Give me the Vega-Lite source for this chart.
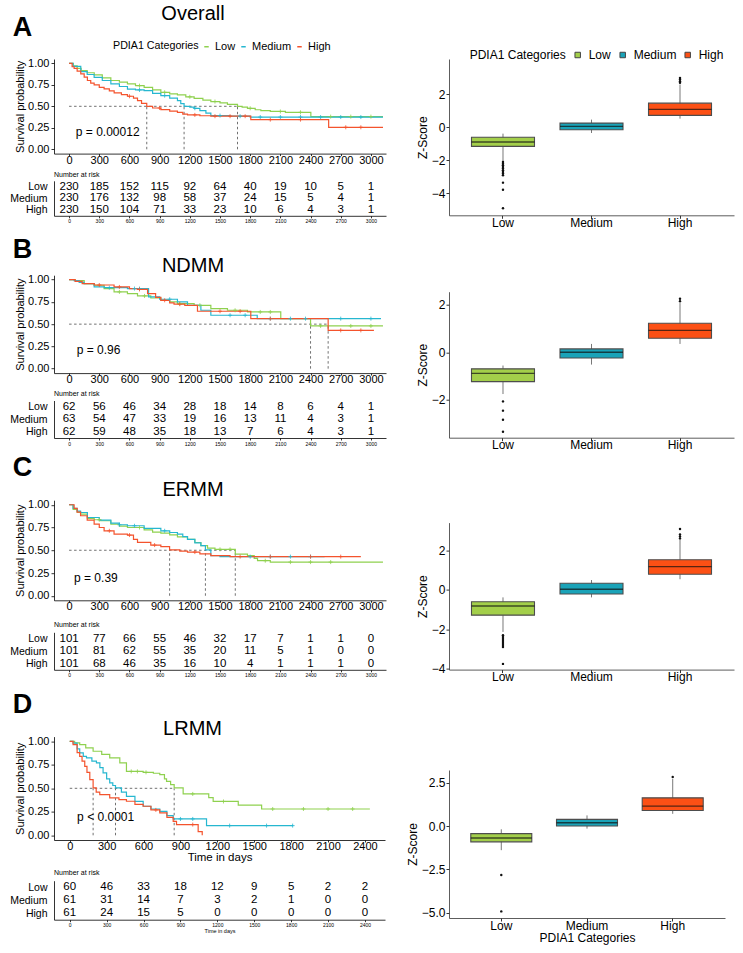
{
"$schema": "https://vega.github.io/schema/vega-lite/v6.json",
"padding": {"left": 9, "top": 4, "right": 2, "bottom": 2},
"spacing": 20,
"resolve": {"scale": {"fill": "independent"}, "legend": {"fill": "independent"}},
"config": {
  "font": "Liberation Sans",
  "view": {"stroke": null},
  "axis": {"grid": false, "domainColor": "#000", "domainWidth": 0.8, "tickColor": "#000", "tickWidth": 0.8, "labelColor": "#000", "titleColor": "#000", "titleFontWeight": "normal"},
  "title": {"color": "#000", "fontWeight": "normal"},
  "legend": {"labelColor": "#000", "titleColor": "#000"}
},
"hconcat": [
 {
  "spacing": 11.2,
  "vconcat": [
   {
    "title": {"text": "A", "anchor": "start", "fontSize": 27, "fontWeight": "bold", "offset": -38, "dx": 3},
    "spacing": 3.8,
    "vconcat": [
     {
      "width": 332, "height": 94.6,
      "title": {"text": "Overall", "fontSize": 20, "anchor": "middle", "frame": "group", "dx": -27, "offset": 33},
      "encoding": {
        "x": {"field": "t", "type": "quantitative", "title": null, "scale": {"domain": [-150, 3150], "nice": false, "zero": false}, "axis": {"values": [0,300,600,900,1200,1500,1800,2100,2400,2700,3000], "format": "d", "labelFontSize": 11, "tickSize": 2, "labelPadding": -1.5}},
        "y": {"field": "s", "type": "quantitative", "title": "Survival probability", "scale": {"domain": [-0.05, 1.05], "nice": false, "zero": false}, "axis": {"values": [0,0.25,0.5,0.75,1], "format": ".2f", "labelFontSize": 11, "tickSize": 3, "labelPadding": 2, "titleFontSize": 11, "titlePadding": 2}},
        "color": {"field": "g", "type": "nominal", "scale": {"domain": ["Low","Medium","High"], "range": ["#8fd14f","#26b7d0","#f4532d"]}, "legend": {"title": "PDIA1 Categories", "orient": "none", "legendX": 59, "legendY": -18, "direction": "horizontal", "titleOrient": "left", "titleFontSize": 10.7, "titleFontWeight": "normal", "labelFontSize": 11, "symbolType": "stroke", "symbolSize": 20, "symbolStrokeWidth": 1.5, "columnPadding": 2, "labelOffset": 3, "titlePadding": 2}}
      },
      "layer": [
        {"data": {"name": "medA"}, "mark": {"type": "rule", "strokeDash": [2.5, 2.5], "strokeWidth": 0.7}, "encoding": {"x2": {"field": "t2"}, "y2": {"field": "s2"}, "color": {"value": "#333"}}},
        {"data": {"name": "kmA"}, "mark": {"type": "line", "interpolate": "step-after", "strokeWidth": 1.2}},
        {"data": {"name": "cenA"}, "mark": {"type": "point", "shape": "M-1,0H1M0,-1V1", "filled": false, "size": 16, "strokeWidth": 0.8, "opacity": 1}},
        {"data": {"name": "pA"}, "mark": {"type": "text", "align": "left", "baseline": "middle", "fontSize": 12}, "encoding": {"text": {"field": "label"}, "color": {"value": "#000"}}}
      ]
     },
     {
      "width": 332, "height": 35,
      "title": {"text": "Number at risk", "fontSize": 7, "anchor": "start", "frame": "group", "offset": 3},
      "data": {"name": "riskA"},
      "mark": {"type": "text", "fontSize": 11.5, "baseline": "middle"},
      "encoding": {
        "x": {"field": "t", "type": "quantitative", "title": null, "scale": {"domain": [-150, 3150], "nice": false, "zero": false}, "axis": {"values": [0,300,600,900,1200,1500,1800,2100,2400,2700,3000], "format": "d", "labelFontSize": 5, "tickSize": 2, "labelPadding": 1}},
        "y": {"field": "g", "type": "nominal", "title": null, "scale": {"domain": ["Low","Medium","High"]}, "axis": {"ticks": false, "labelFontSize": 10.5, "labelPadding": 7, "encode": {"labels": {"update": {"fill": {"signal": "datum.value === 'Low' ? '#b4e08f' : datum.value === 'Medium' ? '#52cfe0' : '#fa5a3c'"}}}}}},
        "text": {"field": "n", "type": "nominal"}
      }
     }
    ]
   },
   {
    "spacing": 8,
    "vconcat": [
     {
      "title": {"text": "B", "anchor": "start", "fontSize": 27, "fontWeight": "bold", "offset": -8, "dx": 3},
      "spacing": 4.3,
      "vconcat": [
       {
        "width": 332, "height": 97.9,
        "title": {"text": "NDMM", "fontSize": 20, "anchor": "middle", "frame": "group", "dx": -27, "offset": -2},
        "encoding": {
          "x": {"field": "t", "type": "quantitative", "title": null, "scale": {"domain": [-150, 3150], "nice": false, "zero": false}, "axis": {"values": [0,300,600,900,1200,1500,1800,2100,2400,2700,3000], "format": "d", "labelFontSize": 11, "tickSize": 2, "labelPadding": -1.5}},
          "y": {"field": "s", "type": "quantitative", "title": "Survival probability", "scale": {"domain": [-0.05, 1.05], "nice": false, "zero": false}, "axis": {"values": [0,0.25,0.5,0.75,1], "format": ".2f", "labelFontSize": 11, "tickSize": 3, "labelPadding": 2, "titleFontSize": 11, "titlePadding": 2}},
          "color": {"field": "g", "type": "nominal", "scale": {"domain": ["Low","Medium","High"], "range": ["#8fd14f","#26b7d0","#f4532d"]}, "legend": null}
        },
        "layer": [
          {"data": {"name": "medB"}, "mark": {"type": "rule", "strokeDash": [2.5, 2.5], "strokeWidth": 0.7}, "encoding": {"x2": {"field": "t2"}, "y2": {"field": "s2"}, "color": {"value": "#333"}}},
          {"data": {"name": "kmB"}, "mark": {"type": "line", "interpolate": "step-after", "strokeWidth": 1.2}},
          {"data": {"name": "cenB"}, "mark": {"type": "point", "shape": "M-1,0H1M0,-1V1", "filled": false, "size": 16, "strokeWidth": 0.8, "opacity": 1}},
          {"data": {"name": "pB"}, "mark": {"type": "text", "align": "left", "baseline": "middle", "fontSize": 12}, "encoding": {"text": {"field": "label"}, "color": {"value": "#000"}}}
        ]
       },
       {
        "width": 332, "height": 37.5,
        "title": {"text": "Number at risk", "fontSize": 7, "anchor": "start", "frame": "group", "offset": 3.5},
        "data": {"name": "riskB"},
        "mark": {"type": "text", "fontSize": 11.5, "baseline": "middle"},
        "encoding": {
          "x": {"field": "t", "type": "quantitative", "title": null, "scale": {"domain": [-150, 3150], "nice": false, "zero": false}, "axis": {"values": [0,300,600,900,1200,1500,1800,2100,2400,2700,3000], "format": "d", "labelFontSize": 5, "tickSize": 2, "labelPadding": 1}},
          "y": {"field": "g", "type": "nominal", "title": null, "scale": {"domain": ["Low","Medium","High"]}, "axis": {"ticks": false, "labelFontSize": 10.5, "labelPadding": 7, "encode": {"labels": {"update": {"fill": {"signal": "datum.value === 'Low' ? '#b4e08f' : datum.value === 'Medium' ? '#52cfe0' : '#fa5a3c'"}}}}}},
          "text": {"field": "n", "type": "nominal"}
        }
       }
      ]
     },
     {
      "spacing": 12.4,
      "vconcat": [
       {
        "title": {"text": "C", "anchor": "start", "fontSize": 27, "fontWeight": "bold", "offset": -2.4, "dx": 3},
        "spacing": 8.1,
        "vconcat": [
         {
          "width": 332, "height": 100.1,
          "title": {"text": "ERMM", "fontSize": 20, "anchor": "middle", "frame": "group", "dx": -27, "offset": -1.3},
          "encoding": {
            "x": {"field": "t", "type": "quantitative", "title": null, "scale": {"domain": [-150, 3150], "nice": false, "zero": false}, "axis": {"values": [0,300,600,900,1200,1500,1800,2100,2400,2700,3000], "format": "d", "labelFontSize": 11, "tickSize": 2, "labelPadding": -1.5}},
            "y": {"field": "s", "type": "quantitative", "title": "Survival probability", "scale": {"domain": [-0.05, 1.05], "nice": false, "zero": false}, "axis": {"values": [0,0.25,0.5,0.75,1], "format": ".2f", "labelFontSize": 11, "tickSize": 3, "labelPadding": 2, "titleFontSize": 11, "titlePadding": 2}},
            "color": {"field": "g", "type": "nominal", "scale": {"domain": ["Low","Medium","High"], "range": ["#8fd14f","#26b7d0","#f4532d"]}, "legend": null}
          },
          "layer": [
            {"data": {"name": "medC"}, "mark": {"type": "rule", "strokeDash": [2.5, 2.5], "strokeWidth": 0.7}, "encoding": {"x2": {"field": "t2"}, "y2": {"field": "s2"}, "color": {"value": "#333"}}},
            {"data": {"name": "kmC"}, "mark": {"type": "line", "interpolate": "step-after", "strokeWidth": 1.2}},
            {"data": {"name": "cenC"}, "mark": {"type": "point", "shape": "M-1,0H1M0,-1V1", "filled": false, "size": 16, "strokeWidth": 0.8, "opacity": 1}},
            {"data": {"name": "pC"}, "mark": {"type": "text", "align": "left", "baseline": "middle", "fontSize": 12}, "encoding": {"text": {"field": "label"}, "color": {"value": "#000"}}}
          ]
         },
         {
          "width": 332, "height": 37.5,
          "title": {"text": "Number at risk", "fontSize": 7, "anchor": "start", "frame": "group", "offset": 4.5},
          "data": {"name": "riskC"},
          "mark": {"type": "text", "fontSize": 11.5, "baseline": "middle"},
          "encoding": {
            "x": {"field": "t", "type": "quantitative", "title": null, "scale": {"domain": [-150, 3150], "nice": false, "zero": false}, "axis": {"values": [0,300,600,900,1200,1500,1800,2100,2400,2700,3000], "format": "d", "labelFontSize": 5, "tickSize": 2, "labelPadding": 1}},
            "y": {"field": "g", "type": "nominal", "title": null, "scale": {"domain": ["Low","Medium","High"]}, "axis": {"ticks": false, "labelFontSize": 10.5, "labelPadding": 7, "encode": {"labels": {"update": {"fill": {"signal": "datum.value === 'Low' ? '#b4e08f' : datum.value === 'Medium' ? '#52cfe0' : '#fa5a3c'"}}}}}},
            "text": {"field": "n", "type": "nominal"}
          }
         }
        ]
       },
       {
        "title": {"text": "D", "anchor": "start", "fontSize": 27, "fontWeight": "bold", "offset": 0, "dx": 3},
        "spacing": 5.1,
        "vconcat": [
         {
          "width": 331, "height": 103.4,
          "title": {"text": "LRMM", "fontSize": 20, "anchor": "middle", "frame": "group", "dx": -27, "offset": -3.4},
          "encoding": {
            "x": {"field": "t", "type": "quantitative", "title": "Time in days", "scale": {"domain": [-128, 2563], "nice": false, "zero": false}, "axis": {"values": [0,300,600,900,1200,1500,1800,2100,2400], "format": "d", "labelFontSize": 11, "tickSize": 2, "labelPadding": -1.5, "titleFontSize": 11.5, "titlePadding": 0}},
            "y": {"field": "s", "type": "quantitative", "title": "Survival probability", "scale": {"domain": [-0.05, 1.05], "nice": false, "zero": false}, "axis": {"values": [0,0.25,0.5,0.75,1], "format": ".2f", "labelFontSize": 11, "tickSize": 3, "labelPadding": 2, "titleFontSize": 11, "titlePadding": 2}},
            "color": {"field": "g", "type": "nominal", "scale": {"domain": ["Low","Medium","High"], "range": ["#8fd14f","#26b7d0","#f4532d"]}, "legend": null}
          },
          "layer": [
            {"data": {"name": "medD"}, "mark": {"type": "rule", "strokeDash": [2.5, 2.5], "strokeWidth": 0.7}, "encoding": {"x2": {"field": "t2"}, "y2": {"field": "s2"}, "color": {"value": "#333"}}},
            {"data": {"name": "kmD"}, "mark": {"type": "line", "interpolate": "step-after", "strokeWidth": 1.2}},
            {"data": {"name": "cenD"}, "mark": {"type": "point", "shape": "M-1,0H1M0,-1V1", "filled": false, "size": 16, "strokeWidth": 0.8, "opacity": 1}},
            {"data": {"name": "pD"}, "mark": {"type": "text", "align": "left", "baseline": "middle", "fontSize": 12}, "encoding": {"text": {"field": "label"}, "color": {"value": "#000"}}}
          ]
         },
         {
          "width": 331, "height": 39,
          "title": {"text": "Number at risk", "fontSize": 7, "anchor": "start", "frame": "group", "offset": 4.6},
          "data": {"name": "riskD"},
          "mark": {"type": "text", "fontSize": 11.5, "baseline": "middle"},
          "encoding": {
            "x": {"field": "t", "type": "quantitative", "title": "Time in days", "scale": {"domain": [-128, 2563], "nice": false, "zero": false}, "axis": {"values": [0,300,600,900,1200,1500,1800,2100,2400], "format": "d", "labelFontSize": 5, "tickSize": 2, "labelPadding": 1, "titleFontSize": 5.5, "titlePadding": 1}},
            "y": {"field": "g", "type": "nominal", "title": null, "scale": {"domain": ["Low","Medium","High"]}, "axis": {"ticks": false, "labelFontSize": 10.5, "labelPadding": 7, "encode": {"labels": {"update": {"fill": {"signal": "datum.value === 'Low' ? '#b4e08f' : datum.value === 'Medium' ? '#52cfe0' : '#fa5a3c'"}}}}}},
            "text": {"field": "n", "type": "nominal"}
          }
         }
        ]
       }
      ]
     }
    ]
   }
  ]
 },
 {
  "spacing": 62.7,
  "vconcat": [
   {
    "width": 285, "height": 156.3,
    "encoding": {"x": {"field": "g", "type": "nominal", "title": null, "scale": {"type": "band", "domain": ["Low","Medium","High"], "paddingInner": 0, "paddingOuter": 0.11}, "axis": {"labelAngle": 0, "labelFontSize": 12, "tickSize": 3, "labelPadding": -1, "domainColor": "#333"}}},
    "layer": [
      {"data": {"name": "boxA"}, "mark": {"type": "rule", "color": "#555", "strokeWidth": 0.8}, "encoding": {"y": {"field": "lo", "type": "quantitative", "title": "Z-Score", "scale": {"domain": [-5.33, 4.145], "nice": false, "zero": false}, "axis": {"values": [-4,-2,0,2], "labelFontSize": 12, "titleFontSize": 12, "tickSize": 3, "labelPadding": 1, "titlePadding": 2, "domainColor": "#333"}}, "y2": {"field": "hi"}}},
      {"data": {"name": "boxA"}, "mark": {"type": "bar", "size": 63, "stroke": "#4d4d4d", "strokeWidth": 1.1}, "encoding": {"y": {"field": "q1", "type": "quantitative", "title": "Z-Score", "scale": {"domain": [-5.33, 4.145], "nice": false, "zero": false}}, "y2": {"field": "q3"}, "fill": {"field": "g", "type": "nominal", "scale": {"domain": ["Low","Medium","High"], "range": ["#a3cf4a","#1aa3b8","#fc5015"]}, "legend": {"title": "PDIA1 Categories", "orient": "none", "legendX": 20.7, "legendY": -10, "direction": "horizontal", "titleOrient": "left", "titleFontSize": 12, "titleFontWeight": "normal", "labelFontSize": 12, "symbolType": "square", "symbolSize": 30, "symbolStrokeColor": "#444", "symbolStrokeWidth": 1, "columnPadding": 5, "labelOffset": 5, "titlePadding": 5}}}},
      {"data": {"name": "boxA"}, "mark": {"type": "tick", "size": 63, "thickness": 1.4, "color": "#111"}, "encoding": {"y": {"field": "med", "type": "quantitative", "title": "Z-Score", "scale": {"domain": [-5.33, 4.145], "nice": false, "zero": false}}}},
      {"data": {"name": "outA"}, "mark": {"type": "circle", "size": 6, "color": "#111", "opacity": 1}, "encoding": {"y": {"field": "v", "type": "quantitative", "title": "Z-Score", "scale": {"domain": [-5.33, 4.145], "nice": false, "zero": false}}}}
    ]
   },
   {
    "spacing": 71.9,
    "vconcat": [
     {
      "width": 285, "height": 146,
      "encoding": {"x": {"field": "g", "type": "nominal", "title": null, "scale": {"type": "band", "domain": ["Low","Medium","High"], "paddingInner": 0, "paddingOuter": 0.11}, "axis": {"labelAngle": 0, "labelFontSize": 12, "tickSize": 3, "labelPadding": -1, "domainColor": "#333"}}},
      "layer": [
        {"data": {"name": "boxB"}, "mark": {"type": "rule", "color": "#555", "strokeWidth": 0.8}, "encoding": {"y": {"field": "lo", "type": "quantitative", "title": "Z-Score", "scale": {"domain": [-3.6, 2.55], "nice": false, "zero": false}, "axis": {"values": [-2,0,2], "labelFontSize": 12, "titleFontSize": 12, "tickSize": 3, "labelPadding": 1, "titlePadding": 2, "domainColor": "#333"}}, "y2": {"field": "hi"}}},
        {"data": {"name": "boxB"}, "mark": {"type": "bar", "size": 63, "stroke": "#4d4d4d", "strokeWidth": 1.1}, "encoding": {"y": {"field": "q1", "type": "quantitative", "title": "Z-Score", "scale": {"domain": [-3.6, 2.55], "nice": false, "zero": false}}, "y2": {"field": "q3"}, "fill": {"field": "g", "type": "nominal", "scale": {"domain": ["Low","Medium","High"], "range": ["#a3cf4a","#1aa3b8","#fc5015"]}, "legend": null}}},
        {"data": {"name": "boxB"}, "mark": {"type": "tick", "size": 63, "thickness": 1.4, "color": "#111"}, "encoding": {"y": {"field": "med", "type": "quantitative", "title": "Z-Score", "scale": {"domain": [-3.6, 2.55], "nice": false, "zero": false}}}},
        {"data": {"name": "outB"}, "mark": {"type": "circle", "size": 6, "color": "#111", "opacity": 1}, "encoding": {"y": {"field": "v", "type": "quantitative", "title": "Z-Score", "scale": {"domain": [-3.6, 2.55], "nice": false, "zero": false}}}}
      ]
     },
     {
      "spacing": 87.4,
      "vconcat": [
       {
        "width": 285, "height": 147,
        "encoding": {"x": {"field": "g", "type": "nominal", "title": null, "scale": {"type": "band", "domain": ["Low","Medium","High"], "paddingInner": 0, "paddingOuter": 0.11}, "axis": {"labelAngle": 0, "labelFontSize": 12, "tickSize": 3, "labelPadding": -1, "domainColor": "#333"}}},
        "layer": [
          {"data": {"name": "boxC"}, "mark": {"type": "rule", "color": "#555", "strokeWidth": 0.8}, "encoding": {"y": {"field": "lo", "type": "quantitative", "title": "Z-Score", "scale": {"domain": [-4.05, 3.4], "nice": false, "zero": false}, "axis": {"values": [-4,-2,0,2], "labelFontSize": 12, "titleFontSize": 12, "tickSize": 3, "labelPadding": 1, "titlePadding": 2, "domainColor": "#333"}}, "y2": {"field": "hi"}}},
          {"data": {"name": "boxC"}, "mark": {"type": "bar", "size": 63, "stroke": "#4d4d4d", "strokeWidth": 1.1}, "encoding": {"y": {"field": "q1", "type": "quantitative", "title": "Z-Score", "scale": {"domain": [-4.05, 3.4], "nice": false, "zero": false}}, "y2": {"field": "q3"}, "fill": {"field": "g", "type": "nominal", "scale": {"domain": ["Low","Medium","High"], "range": ["#a3cf4a","#1aa3b8","#fc5015"]}, "legend": null}}},
          {"data": {"name": "boxC"}, "mark": {"type": "tick", "size": 63, "thickness": 1.4, "color": "#111"}, "encoding": {"y": {"field": "med", "type": "quantitative", "title": "Z-Score", "scale": {"domain": [-4.05, 3.4], "nice": false, "zero": false}}}},
          {"data": {"name": "outC"}, "mark": {"type": "circle", "size": 6, "color": "#111", "opacity": 1}, "encoding": {"y": {"field": "v", "type": "quantitative", "title": "Z-Score", "scale": {"domain": [-4.05, 3.4], "nice": false, "zero": false}}}}
        ]
       },
       {
        "width": 276, "height": 148,
        "encoding": {"x": {"field": "g", "type": "nominal", "title": "PDIA1 Categories", "scale": {"type": "band", "domain": ["Low","Medium","High"], "paddingInner": 0, "paddingOuter": 0.11}, "axis": {"labelAngle": 0, "labelFontSize": 12, "tickSize": 3, "labelPadding": -1, "titleFontSize": 12, "titlePadding": 1.5, "domainColor": "#333"}}},
        "layer": [
          {"data": {"name": "boxD"}, "mark": {"type": "rule", "color": "#555", "strokeWidth": 0.8}, "encoding": {"y": {"field": "lo", "type": "quantitative", "title": "Z-Score", "scale": {"domain": [-5.29, 3.22], "nice": false, "zero": false}, "axis": {"values": [-5,-2.5,0,2.5], "format": ".1f", "labelFontSize": 12, "titleFontSize": 12, "tickSize": 3, "labelPadding": 1, "titlePadding": 2, "domainColor": "#333"}}, "y2": {"field": "hi"}}},
          {"data": {"name": "boxD"}, "mark": {"type": "bar", "size": 61, "stroke": "#4d4d4d", "strokeWidth": 1.1}, "encoding": {"y": {"field": "q1", "type": "quantitative", "title": "Z-Score", "scale": {"domain": [-5.29, 3.22], "nice": false, "zero": false}}, "y2": {"field": "q3"}, "fill": {"field": "g", "type": "nominal", "scale": {"domain": ["Low","Medium","High"], "range": ["#a3cf4a","#1aa3b8","#fc5015"]}, "legend": null}}},
          {"data": {"name": "boxD"}, "mark": {"type": "tick", "size": 61, "thickness": 1.4, "color": "#111"}, "encoding": {"y": {"field": "med", "type": "quantitative", "title": "Z-Score", "scale": {"domain": [-5.29, 3.22], "nice": false, "zero": false}}}},
          {"data": {"name": "outD"}, "mark": {"type": "circle", "size": 6, "color": "#111", "opacity": 1}, "encoding": {"y": {"field": "v", "type": "quantitative", "title": "Z-Score", "scale": {"domain": [-5.29, 3.22], "nice": false, "zero": false}}}}
        ]
       }
      ]
     }
    ]
   }
  ]
 }
],
"datasets": {
 "kmA": [
  {"g":"Low","t":0,"s":1},{"g":"Low","t":40,"s":0.97},{"g":"Low","t":80,"s":0.94},{"g":"Low","t":120,"s":0.915},{"g":"Low","t":180,"s":0.89},{"g":"Low","t":250,"s":0.865},{"g":"Low","t":330,"s":0.83},{"g":"Low","t":415,"s":0.8},{"g":"Low","t":500,"s":0.78},{"g":"Low","t":580,"s":0.76},{"g":"Low","t":660,"s":0.74},{"g":"Low","t":746,"s":0.72},{"g":"Low","t":830,"s":0.69},{"g":"Low","t":912,"s":0.663},{"g":"Low","t":1000,"s":0.645},{"g":"Low","t":1077,"s":0.632},{"g":"Low","t":1160,"s":0.61},{"g":"Low","t":1243,"s":0.593},{"g":"Low","t":1330,"s":0.572},{"g":"Low","t":1409,"s":0.555},{"g":"Low","t":1500,"s":0.54},{"g":"Low","t":1574,"s":0.523},{"g":"Low","t":1674,"s":0.5},{"g":"Low","t":1720,"s":0.49},{"g":"Low","t":1773,"s":0.477},{"g":"Low","t":1850,"s":0.46},{"g":"Low","t":1906,"s":0.45},{"g":"Low","t":2000,"s":0.44},{"g":"Low","t":2150,"s":0.43},{"g":"Low","t":2403,"s":0.38},{"g":"Low","t":3120,"s":0.38},
  {"g":"Medium","t":0,"s":1},{"g":"Medium","t":40,"s":0.965},{"g":"Medium","t":116,"s":0.903},{"g":"Medium","t":180,"s":0.87},{"g":"Medium","t":249,"s":0.837},{"g":"Medium","t":330,"s":0.8},{"g":"Medium","t":415,"s":0.76},{"g":"Medium","t":500,"s":0.73},{"g":"Medium","t":580,"s":0.7},{"g":"Medium","t":660,"s":0.69},{"g":"Medium","t":746,"s":0.683},{"g":"Medium","t":830,"s":0.65},{"g":"Medium","t":912,"s":0.624},{"g":"Medium","t":1000,"s":0.595},{"g":"Medium","t":1077,"s":0.566},{"g":"Medium","t":1110,"s":0.53},{"g":"Medium","t":1143,"s":0.5},{"g":"Medium","t":1200,"s":0.49},{"g":"Medium","t":1243,"s":0.477},{"g":"Medium","t":1300,"s":0.45},{"g":"Medium","t":1360,"s":0.42},{"g":"Medium","t":1409,"s":0.392},{"g":"Medium","t":1600,"s":0.385},{"g":"Medium","t":1800,"s":0.375},{"g":"Medium","t":3120,"s":0.375},
  {"g":"High","t":0,"s":1},{"g":"High","t":30,"s":0.96},{"g":"High","t":50,"s":0.942},{"g":"High","t":80,"s":0.91},{"g":"High","t":116,"s":0.876},{"g":"High","t":150,"s":0.84},{"g":"High","t":182,"s":0.8},{"g":"High","t":215,"s":0.77},{"g":"High","t":249,"s":0.748},{"g":"High","t":300,"s":0.72},{"g":"High","t":348,"s":0.702},{"g":"High","t":400,"s":0.68},{"g":"High","t":448,"s":0.656},{"g":"High","t":520,"s":0.635},{"g":"High","t":580,"s":0.617},{"g":"High","t":640,"s":0.595},{"g":"High","t":680,"s":0.566},{"g":"High","t":720,"s":0.535},{"g":"High","t":772,"s":0.5},{"g":"High","t":830,"s":0.48},{"g":"High","t":912,"s":0.462},{"g":"High","t":1000,"s":0.445},{"g":"High","t":1077,"s":0.43},{"g":"High","t":1130,"s":0.41},{"g":"High","t":1177,"s":0.4},{"g":"High","t":1300,"s":0.39},{"g":"High","t":1409,"s":0.385},{"g":"High","t":1806,"s":0.345},{"g":"High","t":2580,"s":0.256},{"g":"High","t":3120,"s":0.256}
 ],
 "cenA": [
  {"g":"Low","t":700,"s":0.74},{"g":"Low","t":950,"s":0.663},{"g":"Low","t":1200,"s":0.61},{"g":"Low","t":1450,"s":0.555},{"g":"Low","t":1800,"s":0.477},{"g":"Low","t":2100,"s":0.44},{"g":"Low","t":2300,"s":0.43},{"g":"Low","t":2600,"s":0.38},{"g":"Low","t":2800,"s":0.38},{"g":"Low","t":3000,"s":0.38},
  {"g":"Medium","t":700,"s":0.69},{"g":"Medium","t":950,"s":0.624},{"g":"Medium","t":1250,"s":0.477},{"g":"Medium","t":1500,"s":0.392},{"g":"Medium","t":1700,"s":0.385},{"g":"Medium","t":1900,"s":0.375},{"g":"Medium","t":2100,"s":0.375},{"g":"Medium","t":2300,"s":0.375},{"g":"Medium","t":2500,"s":0.375},{"g":"Medium","t":2700,"s":0.375},{"g":"Medium","t":2900,"s":0.375},
  {"g":"High","t":600,"s":0.617},{"g":"High","t":900,"s":0.48},{"g":"High","t":1250,"s":0.4},{"g":"High","t":1450,"s":0.385},{"g":"High","t":1600,"s":0.385},{"g":"High","t":1750,"s":0.385},{"g":"High","t":2000,"s":0.345},{"g":"High","t":2300,"s":0.345},{"g":"High","t":2750,"s":0.256},{"g":"High","t":2900,"s":0.256}
 ],
 "medA": [{"t":0,"t2":1674,"s":0.5,"s2":0.5},{"t":772,"t2":772,"s":0,"s2":0.5},{"t":1143,"t2":1143,"s":0,"s2":0.5},{"t":1674,"t2":1674,"s":0,"s2":0.5}],
 "pA": [{"t":67,"s":0.2,"label":"p = 0.00012"}],
 "riskA": [
  {"g":"Low","t":0,"n":230},{"g":"Low","t":300,"n":185},{"g":"Low","t":600,"n":152},{"g":"Low","t":900,"n":115},{"g":"Low","t":1200,"n":92},{"g":"Low","t":1500,"n":64},{"g":"Low","t":1800,"n":40},{"g":"Low","t":2100,"n":19},{"g":"Low","t":2400,"n":10},{"g":"Low","t":2700,"n":5},{"g":"Low","t":3000,"n":1},
  {"g":"Medium","t":0,"n":230},{"g":"Medium","t":300,"n":176},{"g":"Medium","t":600,"n":132},{"g":"Medium","t":900,"n":98},{"g":"Medium","t":1200,"n":58},{"g":"Medium","t":1500,"n":37},{"g":"Medium","t":1800,"n":24},{"g":"Medium","t":2100,"n":15},{"g":"Medium","t":2400,"n":5},{"g":"Medium","t":2700,"n":4},{"g":"Medium","t":3000,"n":1},
  {"g":"High","t":0,"n":230},{"g":"High","t":300,"n":150},{"g":"High","t":600,"n":104},{"g":"High","t":900,"n":71},{"g":"High","t":1200,"n":33},{"g":"High","t":1500,"n":23},{"g":"High","t":1800,"n":10},{"g":"High","t":2100,"n":6},{"g":"High","t":2400,"n":4},{"g":"High","t":2700,"n":3},{"g":"High","t":3000,"n":1}
 ],
 "boxA": [
  {"g":"Low","lo":-2.04,"q1":-1.15,"med":-0.89,"q3":-0.6,"hi":-0.38},
  {"g":"Medium","lo":-0.34,"q1":-0.14,"med":0.06,"q3":0.26,"hi":0.47},
  {"g":"High","lo":0.53,"q1":0.73,"med":1.09,"q3":1.47,"hi":2.6}
 ],
 "outA": [
  {"g":"Low","v":-2.1},{"g":"Low","v":-2.2},{"g":"Low","v":-2.3},{"g":"Low","v":-2.4},{"g":"Low","v":-2.5},{"g":"Low","v":-2.6},{"g":"Low","v":-2.7},{"g":"Low","v":-2.8},{"g":"Low","v":-2.9},{"g":"Low","v":-3.35},{"g":"Low","v":-3.78},{"g":"Low","v":-4.9},
  {"g":"High","v":2.7},{"g":"High","v":2.8},{"g":"High","v":2.9},{"g":"High","v":3.0}
 ],
 "kmB": [
  {"g":"Low","t":0,"s":1},{"g":"Low","t":60,"s":0.99},{"g":"Low","t":150,"s":0.955},{"g":"Low","t":249,"s":0.937},{"g":"Low","t":348,"s":0.9},{"g":"Low","t":447,"s":0.862},{"g":"Low","t":580,"s":0.843},{"g":"Low","t":680,"s":0.817},{"g":"Low","t":812,"s":0.794},{"g":"Low","t":912,"s":0.768},{"g":"Low","t":1000,"s":0.75},{"g":"Low","t":1077,"s":0.73},{"g":"Low","t":1243,"s":0.712},{"g":"Low","t":1409,"s":0.674},{"g":"Low","t":1574,"s":0.656},{"g":"Low","t":1773,"s":0.637},{"g":"Low","t":2104,"s":0.562},{"g":"Low","t":2400,"s":0.48},{"g":"Low","t":3120,"s":0.48},
  {"g":"Medium","t":0,"s":1},{"g":"Medium","t":50,"s":0.99},{"g":"Medium","t":100,"s":0.97},{"g":"Medium","t":149,"s":0.955},{"g":"Medium","t":249,"s":0.918},{"g":"Medium","t":350,"s":0.91},{"g":"Medium","t":580,"s":0.9},{"g":"Medium","t":790,"s":0.806},{"g":"Medium","t":900,"s":0.78},{"g":"Medium","t":1077,"s":0.75},{"g":"Medium","t":1177,"s":0.712},{"g":"Medium","t":1310,"s":0.656},{"g":"Medium","t":1409,"s":0.6},{"g":"Medium","t":1870,"s":0.562},{"g":"Medium","t":3100,"s":0.562},
  {"g":"High","t":0,"s":1},{"g":"High","t":60,"s":0.98},{"g":"High","t":130,"s":0.955},{"g":"High","t":250,"s":0.94},{"g":"High","t":447,"s":0.918},{"g":"High","t":600,"s":0.9},{"g":"High","t":680,"s":0.89},{"g":"High","t":780,"s":0.843},{"g":"High","t":860,"s":0.8},{"g":"High","t":912,"s":0.768},{"g":"High","t":1000,"s":0.74},{"g":"High","t":1043,"s":0.724},{"g":"High","t":1150,"s":0.712},{"g":"High","t":1276,"s":0.645},{"g":"High","t":1806,"s":0.562},{"g":"High","t":2575,"s":0.43},{"g":"High","t":3030,"s":0.43}
 ],
 "cenB": [
  {"g":"Low","t":500,"s":0.862},{"g":"Low","t":750,"s":0.817},{"g":"Low","t":1100,"s":0.73},{"g":"Low","t":1300,"s":0.712},{"g":"Low","t":1650,"s":0.656},{"g":"Low","t":1900,"s":0.637},{"g":"Low","t":2000,"s":0.637},{"g":"Low","t":2500,"s":0.48},{"g":"Low","t":2800,"s":0.48},{"g":"Low","t":3000,"s":0.48},
  {"g":"Medium","t":400,"s":0.91},{"g":"Medium","t":650,"s":0.9},{"g":"Medium","t":700,"s":0.9},{"g":"Medium","t":1000,"s":0.78},{"g":"Medium","t":1600,"s":0.6},{"g":"Medium","t":1750,"s":0.6},{"g":"Medium","t":2000,"s":0.562},{"g":"Medium","t":2200,"s":0.562},{"g":"Medium","t":2350,"s":0.562},{"g":"Medium","t":2700,"s":0.562},{"g":"Medium","t":3000,"s":0.562},
  {"g":"High","t":300,"s":0.94},{"g":"High","t":500,"s":0.918},{"g":"High","t":700,"s":0.89},{"g":"High","t":950,"s":0.768},{"g":"High","t":1100,"s":0.724},{"g":"High","t":1500,"s":0.645},{"g":"High","t":1700,"s":0.645},{"g":"High","t":2000,"s":0.562},{"g":"High","t":2700,"s":0.43},{"g":"High","t":2900,"s":0.43}
 ],
 "medB": [{"t":0,"t2":2575,"s":0.5,"s2":0.5},{"t":2400,"t2":2400,"s":0,"s2":0.5},{"t":2575,"t2":2575,"s":0,"s2":0.5}],
 "pB": [{"t":75,"s":0.207,"label":"p = 0.96"}],
 "riskB": [
  {"g":"Low","t":0,"n":62},{"g":"Low","t":300,"n":56},{"g":"Low","t":600,"n":46},{"g":"Low","t":900,"n":34},{"g":"Low","t":1200,"n":28},{"g":"Low","t":1500,"n":18},{"g":"Low","t":1800,"n":14},{"g":"Low","t":2100,"n":8},{"g":"Low","t":2400,"n":6},{"g":"Low","t":2700,"n":4},{"g":"Low","t":3000,"n":1},
  {"g":"Medium","t":0,"n":63},{"g":"Medium","t":300,"n":54},{"g":"Medium","t":600,"n":47},{"g":"Medium","t":900,"n":33},{"g":"Medium","t":1200,"n":19},{"g":"Medium","t":1500,"n":16},{"g":"Medium","t":1800,"n":13},{"g":"Medium","t":2100,"n":11},{"g":"Medium","t":2400,"n":4},{"g":"Medium","t":2700,"n":3},{"g":"Medium","t":3000,"n":1},
  {"g":"High","t":0,"n":62},{"g":"High","t":300,"n":59},{"g":"High","t":600,"n":48},{"g":"High","t":900,"n":35},{"g":"High","t":1200,"n":18},{"g":"High","t":1500,"n":13},{"g":"High","t":1800,"n":7},{"g":"High","t":2100,"n":6},{"g":"High","t":2400,"n":4},{"g":"High","t":2700,"n":3},{"g":"High","t":3000,"n":1}
 ],
 "boxB": [
  {"g":"Low","lo":-1.76,"q1":-1.24,"med":-0.89,"q3":-0.7,"hi":-0.56},
  {"g":"Medium","lo":-0.52,"q1":-0.24,"med":0.0,"q3":0.14,"hi":0.35},
  {"g":"High","lo":0.35,"q1":0.59,"med":0.92,"q3":1.22,"hi":2.07}
 ],
 "outB": [
  {"g":"Low","v":-2.07},{"g":"Low","v":-2.46},{"g":"Low","v":-2.84},{"g":"Low","v":-3.35},
  {"g":"High","v":2.15},{"g":"High","v":2.25}
 ],
 "kmC": [
  {"g":"Low","t":0,"s":1},{"g":"Low","t":40,"s":0.95},{"g":"Low","t":80,"s":0.92},{"g":"Low","t":114,"s":0.897},{"g":"Low","t":182,"s":0.85},{"g":"Low","t":250,"s":0.835},{"g":"Low","t":315,"s":0.824},{"g":"Low","t":415,"s":0.787},{"g":"Low","t":500,"s":0.765},{"g":"Low","t":580,"s":0.75},{"g":"Low","t":746,"s":0.725},{"g":"Low","t":830,"s":0.7},{"g":"Low","t":912,"s":0.688},{"g":"Low","t":1000,"s":0.668},{"g":"Low","t":1077,"s":0.648},{"g":"Low","t":1177,"s":0.62},{"g":"Low","t":1250,"s":0.585},{"g":"Low","t":1310,"s":0.55},{"g":"Low","t":1376,"s":0.523},{"g":"Low","t":1450,"s":0.51},{"g":"Low","t":1652,"s":0.457},{"g":"Low","t":1773,"s":0.44},{"g":"Low","t":1840,"s":0.41},{"g":"Low","t":1873,"s":0.385},{"g":"Low","t":2000,"s":0.37},{"g":"Low","t":3120,"s":0.37},
  {"g":"Medium","t":0,"s":1},{"g":"Medium","t":40,"s":0.96},{"g":"Medium","t":80,"s":0.93},{"g":"Medium","t":114,"s":0.915},{"g":"Medium","t":182,"s":0.86},{"g":"Medium","t":300,"s":0.83},{"g":"Medium","t":415,"s":0.798},{"g":"Medium","t":500,"s":0.78},{"g":"Medium","t":580,"s":0.769},{"g":"Medium","t":746,"s":0.74},{"g":"Medium","t":912,"s":0.714},{"g":"Medium","t":1000,"s":0.695},{"g":"Medium","t":1077,"s":0.678},{"g":"Medium","t":1130,"s":0.65},{"g":"Medium","t":1177,"s":0.62},{"g":"Medium","t":1250,"s":0.58},{"g":"Medium","t":1310,"s":0.55},{"g":"Medium","t":1355,"s":0.505},{"g":"Medium","t":1409,"s":0.44},{"g":"Medium","t":1500,"s":0.43},{"g":"Medium","t":2540,"s":0.43},
  {"g":"High","t":0,"s":1},{"g":"High","t":50,"s":0.96},{"g":"High","t":80,"s":0.92},{"g":"High","t":114,"s":0.879},{"g":"High","t":180,"s":0.83},{"g":"High","t":249,"s":0.787},{"g":"High","t":300,"s":0.75},{"g":"High","t":348,"s":0.714},{"g":"High","t":447,"s":0.678},{"g":"High","t":580,"s":0.667},{"g":"High","t":640,"s":0.62},{"g":"High","t":680,"s":0.586},{"g":"High","t":812,"s":0.557},{"g":"High","t":912,"s":0.54},{"g":"High","t":999,"s":0.505},{"g":"High","t":1100,"s":0.49},{"g":"High","t":1177,"s":0.48},{"g":"High","t":1300,"s":0.46},{"g":"High","t":1409,"s":0.44},{"g":"High","t":1600,"s":0.43},{"g":"High","t":2900,"s":0.43}
 ],
 "cenC": [
  {"g":"Low","t":300,"s":0.835},{"g":"Low","t":700,"s":0.75},{"g":"Low","t":1500,"s":0.51},{"g":"Low","t":1600,"s":0.51},{"g":"Low","t":1950,"s":0.385},{"g":"Low","t":2200,"s":0.37},{"g":"Low","t":2400,"s":0.37},{"g":"Low","t":2600,"s":0.37},
  {"g":"Medium","t":500,"s":0.78},{"g":"Medium","t":650,"s":0.769},{"g":"Medium","t":950,"s":0.714},{"g":"Medium","t":1800,"s":0.43},{"g":"Medium","t":2000,"s":0.43},{"g":"Medium","t":2200,"s":0.43},{"g":"Medium","t":2400,"s":0.43},
  {"g":"High","t":400,"s":0.714},{"g":"High","t":600,"s":0.667},{"g":"High","t":850,"s":0.557},{"g":"High","t":1250,"s":0.48},{"g":"High","t":1700,"s":0.43},{"g":"High","t":2000,"s":0.43},{"g":"High","t":2400,"s":0.43},{"g":"High","t":2700,"s":0.43}
 ],
 "medC": [{"t":0,"t2":1652,"s":0.5,"s2":0.5},{"t":999,"t2":999,"s":0,"s2":0.5},{"t":1355,"t2":1355,"s":0,"s2":0.5},{"t":1652,"t2":1652,"s":0,"s2":0.5}],
 "pC": [{"t":49,"s":0.2,"label":"p = 0.39"}],
 "riskC": [
  {"g":"Low","t":0,"n":101},{"g":"Low","t":300,"n":77},{"g":"Low","t":600,"n":66},{"g":"Low","t":900,"n":55},{"g":"Low","t":1200,"n":46},{"g":"Low","t":1500,"n":32},{"g":"Low","t":1800,"n":17},{"g":"Low","t":2100,"n":7},{"g":"Low","t":2400,"n":1},{"g":"Low","t":2700,"n":1},{"g":"Low","t":3000,"n":0},
  {"g":"Medium","t":0,"n":101},{"g":"Medium","t":300,"n":81},{"g":"Medium","t":600,"n":62},{"g":"Medium","t":900,"n":55},{"g":"Medium","t":1200,"n":35},{"g":"Medium","t":1500,"n":20},{"g":"Medium","t":1800,"n":11},{"g":"Medium","t":2100,"n":5},{"g":"Medium","t":2400,"n":1},{"g":"Medium","t":2700,"n":0},{"g":"Medium","t":3000,"n":0},
  {"g":"High","t":0,"n":101},{"g":"High","t":300,"n":68},{"g":"High","t":600,"n":46},{"g":"High","t":900,"n":35},{"g":"High","t":1200,"n":16},{"g":"High","t":1500,"n":10},{"g":"High","t":1800,"n":4},{"g":"High","t":2100,"n":1},{"g":"High","t":2400,"n":1},{"g":"High","t":2700,"n":1},{"g":"High","t":3000,"n":0}
 ],
 "boxC": [
  {"g":"Low","lo":-2.14,"q1":-1.29,"med":-0.83,"q3":-0.61,"hi":-0.39},
  {"g":"Medium","lo":-0.39,"q1":-0.22,"med":0.02,"q3":0.33,"hi":0.49},
  {"g":"High","lo":0.53,"q1":0.78,"med":1.17,"q3":1.52,"hi":2.54}
 ],
 "outC": [
  {"g":"Low","v":-2.31},{"g":"Low","v":-2.4},{"g":"Low","v":-2.5},{"g":"Low","v":-2.6},{"g":"Low","v":-2.7},{"g":"Low","v":-2.8},{"g":"Low","v":-2.9},{"g":"Low","v":-3.76},
  {"g":"High","v":2.6},{"g":"High","v":2.7},{"g":"High","v":2.8},{"g":"High","v":3.08}
 ],
 "kmD": [
  {"g":"Low","t":0,"s":1},{"g":"Low","t":40,"s":0.983},{"g":"Low","t":81,"s":0.965},{"g":"Low","t":130,"s":0.93},{"g":"Low","t":190,"s":0.894},{"g":"Low","t":260,"s":0.86},{"g":"Low","t":325,"s":0.823},{"g":"Low","t":407,"s":0.77},{"g":"Low","t":461,"s":0.68},{"g":"Low","t":597,"s":0.67},{"g":"Low","t":680,"s":0.66},{"g":"Low","t":732,"s":0.646},{"g":"Low","t":770,"s":0.6},{"g":"Low","t":787,"s":0.574},{"g":"Low","t":820,"s":0.54},{"g":"Low","t":849,"s":0.504},{"g":"Low","t":922,"s":0.44},{"g":"Low","t":1130,"s":0.4},{"g":"Low","t":1166,"s":0.36},{"g":"Low","t":1370,"s":0.32},{"g":"Low","t":1560,"s":0.28},{"g":"Low","t":2440,"s":0.28},
  {"g":"Medium","t":0,"s":1},{"g":"Medium","t":27,"s":0.98},{"g":"Medium","t":60,"s":0.92},{"g":"Medium","t":81,"s":0.877},{"g":"Medium","t":110,"s":0.84},{"g":"Medium","t":136,"s":0.823},{"g":"Medium","t":180,"s":0.79},{"g":"Medium","t":217,"s":0.77},{"g":"Medium","t":245,"s":0.72},{"g":"Medium","t":271,"s":0.664},{"g":"Medium","t":300,"s":0.6},{"g":"Medium","t":325,"s":0.557},{"g":"Medium","t":350,"s":0.53},{"g":"Medium","t":372,"s":0.504},{"g":"Medium","t":420,"s":0.46},{"g":"Medium","t":461,"s":0.415},{"g":"Medium","t":530,"s":0.36},{"g":"Medium","t":597,"s":0.309},{"g":"Medium","t":660,"s":0.28},{"g":"Medium","t":732,"s":0.255},{"g":"Medium","t":790,"s":0.21},{"g":"Medium","t":841,"s":0.174},{"g":"Medium","t":1112,"s":0.103},{"g":"Medium","t":1817,"s":0.103},
  {"g":"High","t":0,"s":1},{"g":"High","t":27,"s":0.965},{"g":"High","t":60,"s":0.88},{"g":"High","t":81,"s":0.84},{"g":"High","t":100,"s":0.79},{"g":"High","t":122,"s":0.734},{"g":"High","t":140,"s":0.67},{"g":"High","t":163,"s":0.593},{"g":"High","t":190,"s":0.504},{"g":"High","t":215,"s":0.46},{"g":"High","t":244,"s":0.433},{"g":"High","t":325,"s":0.398},{"g":"High","t":400,"s":0.38},{"g":"High","t":461,"s":0.362},{"g":"High","t":530,"s":0.33},{"g":"High","t":597,"s":0.309},{"g":"High","t":660,"s":0.27},{"g":"High","t":732,"s":0.238},{"g":"High","t":790,"s":0.19},{"g":"High","t":841,"s":0.149},{"g":"High","t":868,"s":0.114},{"g":"High","t":1044,"s":0.04},{"g":"High","t":1077,"s":0.0}
 ],
 "cenD": [
  {"g":"Low","t":500,"s":0.68},{"g":"Low","t":550,"s":0.68},{"g":"Low","t":620,"s":0.67},{"g":"Low","t":1000,"s":0.44},{"g":"Low","t":1250,"s":0.36},{"g":"Low","t":1650,"s":0.28},{"g":"Low","t":1900,"s":0.28},{"g":"Low","t":2100,"s":0.28},{"g":"Low","t":2300,"s":0.28},
  {"g":"Medium","t":900,"s":0.174},{"g":"Medium","t":1000,"s":0.174},{"g":"Medium","t":1300,"s":0.103},{"g":"Medium","t":1600,"s":0.103},{"g":"Medium","t":1812,"s":0.103},
  {"g":"High","t":700,"s":0.27},{"g":"High","t":1000,"s":0.114}
 ],
 "medD": [{"t":0,"t2":849,"s":0.5,"s2":0.5},{"t":190,"t2":190,"s":0,"s2":0.5},{"t":372,"t2":372,"s":0,"s2":0.5},{"t":849,"t2":849,"s":0,"s2":0.5}],
 "pD": [{"t":60,"s":0.196,"label":"p < 0.0001"}],
 "riskD": [
  {"g":"Low","t":0,"n":60},{"g":"Low","t":300,"n":46},{"g":"Low","t":600,"n":33},{"g":"Low","t":900,"n":18},{"g":"Low","t":1200,"n":12},{"g":"Low","t":1500,"n":9},{"g":"Low","t":1800,"n":5},{"g":"Low","t":2100,"n":2},{"g":"Low","t":2400,"n":2},
  {"g":"Medium","t":0,"n":61},{"g":"Medium","t":300,"n":31},{"g":"Medium","t":600,"n":14},{"g":"Medium","t":900,"n":7},{"g":"Medium","t":1200,"n":3},{"g":"Medium","t":1500,"n":2},{"g":"Medium","t":1800,"n":1},{"g":"Medium","t":2100,"n":0},{"g":"Medium","t":2400,"n":0},
  {"g":"High","t":0,"n":61},{"g":"High","t":300,"n":24},{"g":"High","t":600,"n":15},{"g":"High","t":900,"n":5},{"g":"High","t":1200,"n":0},{"g":"High","t":1500,"n":0},{"g":"High","t":1800,"n":0},{"g":"High","t":2100,"n":0},{"g":"High","t":2400,"n":0}
 ],
 "boxD": [
  {"g":"Low","lo":-1.39,"q1":-0.91,"med":-0.69,"q3":-0.44,"hi":-0.19},
  {"g":"Medium","lo":-0.15,"q1":0.0,"med":0.19,"q3":0.38,"hi":0.61},
  {"g":"High","lo":0.7,"q1":0.89,"med":1.14,"q3":1.62,"hi":2.7}
 ],
 "outD": [
  {"g":"Low","v":-2.82},{"g":"Low","v":-4.91},
  {"g":"High","v":2.82}
 ]
}
}
